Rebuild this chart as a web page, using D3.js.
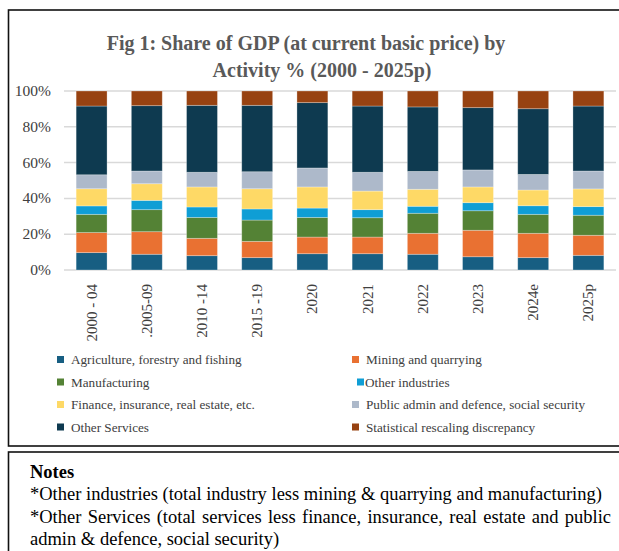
<!DOCTYPE html>
<html>
<head>
<meta charset="utf-8">
<script src="https://cdn.jsdelivr.net/npm/d3@7"></script>
<style>
  body { margin: 0; background: #fff; }
  svg { display: block; font-family: "Liberation Serif", "Times New Roman", serif; }
</style>
</head>
<body>
<svg id="chart" width="619" height="551"></svg>
<script>
const categories = ['2000 - 04', '.2005-09', '2010 -14', '2015 -19', '2020', '2021', '2022', '2023', '2024e', '2025p'];

const seriesNames = [
  'Agriculture, forestry and fishing',
  'Mining and quarrying',
  'Manufacturing',
  'Other industries',
  'Finance, insurance, real estate, etc.',
  'Public admin and defence, social security',
  'Other Services',
  'Statistical rescaling discrepancy'
];

// share of GDP, %
const agriculture   = [9.7, 8.8, 8.0, 6.9, 9.1, 9.1, 8.8, 7.4, 6.9, 8.2];
const mining        = [11.2, 12.6, 9.7, 9.1, 9.3, 9.3, 11.7, 14.8, 13.6, 11.2];
const manufacturing = [10.2, 12.3, 11.7, 11.9, 11.0, 10.8, 11.2, 10.9, 10.6, 11.2];
const otherInd      = [4.7, 5.2, 5.8, 6.2, 5.2, 4.5, 3.9, 4.5, 4.8, 4.8];
const finance       = [9.6, 9.3, 11.2, 11.3, 11.8, 10.4, 9.5, 8.8, 8.8, 9.9];
const publicAdmin   = [7.8, 7.1, 8.2, 9.5, 10.6, 10.5, 10.0, 9.5, 8.7, 10.0];
const otherServices = [38.4, 36.5, 37.4, 37.1, 36.5, 37.0, 36.0, 34.8, 36.7, 36.3];
const discrepancy   = [8.4, 8.2, 8.0, 8.0, 6.5, 8.4, 8.9, 9.3, 9.9, 8.4];

const colors = ['#175e82', '#e97132', '#548235', '#0f9ed5', '#fed966', '#adb9ca', '#0e3a50', '#974211'];
const yTicks = [0, 20, 40, 60, 80, 100];

const seriesValues = [agriculture, mining, manufacturing, otherInd, finance, publicAdmin, otherServices, discrepancy];

const rows = categories.map((c, i) => {
  const r = { cat: c };
  seriesNames.forEach((s, j) => { r[s] = seriesValues[j][i]; });
  return r;
});

const svg = d3.select('#chart');

// outer boxes
svg.append('rect')
  .attr('x', 8.5).attr('y', 10).attr('width', 640).attr('height', 436)
  .attr('fill', 'none').attr('stroke', '#111').attr('stroke-width', 1.6);
svg.append('rect')
  .attr('x', 8.5).attr('y', 452).attr('width', 640).attr('height', 140)
  .attr('fill', 'none').attr('stroke', '#111').attr('stroke-width', 1.6);

// title
const title = svg.append('text')
  .attr('text-anchor', 'middle')
  .attr('fill', '#595959')
  .style('font-size', '20px')
  .style('font-weight', 'bold');
title.append('tspan').attr('x', 306).attr('y', 50).text('Fig 1: Share of GDP (at current basic price) by');
title.append('tspan').attr('x', 322).attr('y', 77).text('Activity % (2000 - 2025p)');

const x = d3.scaleBand()
  .domain(categories)
  .range([64, 616])
  .paddingInner(0.44)
  .paddingOuter(0.22);

const y = d3.scaleLinear().domain([0, 100]).range([270, 91]);

// gridlines
svg.append('g')
  .selectAll('line')
  .data(yTicks)
  .join('line')
  .attr('x1', 64).attr('x2', 616)
  .attr('y1', d => y(d)).attr('y2', d => y(d))
  .attr('stroke', '#d9d9d9')
  .attr('stroke-width', 1.5);

// y labels
svg.append('g')
  .selectAll('text')
  .data(yTicks)
  .join('text')
  .attr('x', 51)
  .attr('y', d => y(d) + 5)
  .attr('text-anchor', 'end')
  .attr('fill', '#404040')
  .style('font-size', '15.5px')
  .text(d => d + '%');

// stacked bars
const stack = d3.stack().keys(seriesNames);
const layers = stack(rows);

svg.append('g')
  .selectAll('g')
  .data(layers)
  .join('g')
  .attr('fill', (d, i) => colors[i])
  .selectAll('rect')
  .data(d => d)
  .join('rect')
  .attr('x', d => x(d.data.cat))
  .attr('width', x.bandwidth())
  .attr('y', d => y(d[1]))
  .attr('height', d => y(d[0]) - y(d[1]))
  .attr('stroke', 'rgba(255,255,255,0.35)')
  .attr('stroke-width', 0.8);

// x labels (rotated)
svg.append('g')
  .selectAll('text')
  .data(categories)
  .join('text')
  .attr('transform', d => `translate(${x(d) + x.bandwidth() / 2 + 5},${284}) rotate(-90)`)
  .attr('text-anchor', 'end')
  .attr('fill', '#404040')
  .style('font-size', '15px')
  .text(d => d);

// legend
const legend = svg.append('g')
  .selectAll('g')
  .data(seriesNames)
  .join('g')
  .attr('transform', (d, i) => `translate(${i % 2 === 0 ? 57 : 352},${364 + Math.floor(i / 2) * 22.5})`);

legend.append('rect')
  .attr('x', (d, i) => (i === 3 ? 5 : 0))
  .attr('y', -8).attr('width', 7).attr('height', 7)
  .attr('fill', (d, i) => colors[i]);

legend.append('text')
  .attr('x', (d, i) => (i === 3 ? 13 : 14))
  .attr('y', 0)
  .attr('fill', '#404040')
  .style('font-size', '13.2px')
  .text(d => d);

// notes
const notes = svg.append('g').attr('fill', '#000').style('font-size', '18.5px');
notes.append('text').attr('x', 30).attr('y', 478).style('font-weight', 'bold').text('Notes');
notes.append('text').attr('x', 30).attr('y', 500)
  .text('*Other industries (total industry less mining & quarrying and manufacturing)');
const just = notes.append('text').attr('x', 30).attr('y', 523)
  .text('*Other Services (total services less finance, insurance, real estate and public');
notes.append('text').attr('x', 30).attr('y', 545)
  .text('admin & defence, social security)');

// justify the wrapped line to the box width
const target = 611 - 30;
const len = just.node().getComputedTextLength();
const gaps = just.text().split(' ').length - 1;
if (len < target) just.attr('word-spacing', (target - len) / gaps);
</script>
</body>
</html>
